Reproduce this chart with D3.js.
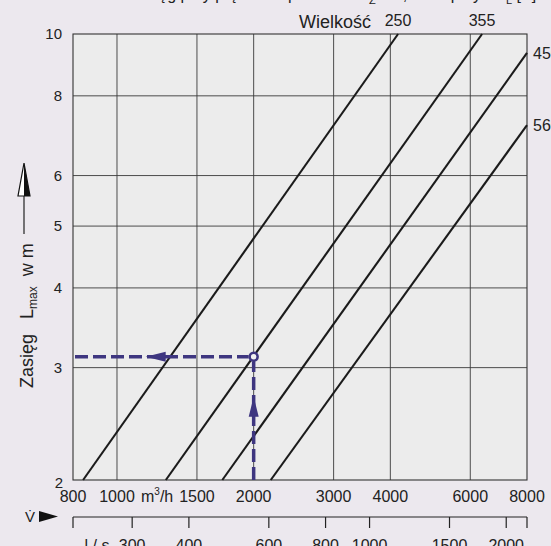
<!DOCTYPE html>
<html>
<head>
<meta charset="utf-8">
<script src="https://cdn.jsdelivr.net/npm/d3@7"></script>
<style>
  html, body { margin: 0; padding: 0; background: #ece8ee; overflow: hidden; }
  svg { display: block; font-family: "Liberation Sans", Arial, sans-serif; }
</style>
</head>
<body>
<div id="chart"></div>
<script>
// Values
const flowTicks = [800, 1000, 1500, 2000, 3000, 4000, 6000, 8000];     // m3/h
const flowGrid = [1000, 1500, 2000, 3000, 4000, 6000];
const rangeTicks = [2, 3, 4, 5, 6, 8, 10];                               // m
const rangeGrid = [3, 4, 5, 6, 8];
const litreTicks = [300, 400, 600, 800, 1000, 1500, 2000];               // l/s
const sizes = ['250', '355', '450', '560'];
const lineStartFlow = [842, 1281, 1706, 2181];                           // flow where L = 2 m
const lineEndFlow = [4160, 6370, 8000, 8000];
const lineEndRange = [10, 10, 9.34, 7.2];
const exampleFlow = 2000;
const exampleRange = 3.12;

class RangeChart {
    constructor(containerId) {
        this.containerId = containerId;
        this.width = 551;
        this.height = 546;
        this.margin = { left: 73, right: 527, top: 34, bottom: 480 };
    }

    draw() {
        const m = this.margin;
        const svg = d3.select(`#${this.containerId}`)
            .append('svg')
            .attr('width', this.width)
            .attr('height', this.height);

        const x = d3.scaleLog().domain([800, 8000]).range([m.left, m.right]);
        const y = d3.scaleLog().domain([2, 10]).range([m.bottom, m.top]);
        // l/s axis shares the same position as m3/h (1 l/s = 3.6 m3/h)
        const xl = d3.scaleLog().domain([800 / 3.6, 8000 / 3.6]).range([m.left, m.right]);

        // heading, mostly cut off by the top edge as in the original
        const head = svg.append('text')
            .attr('x', 128).attr('y', 0)
            .attr('font-size', 16).attr('fill', '#222');
        head.append('tspan').text('Zasięg przy prędkości powietrza v');
        head.append('tspan').attr('font-size', 11).attr('dy', 4).text('Z');
        head.append('tspan').attr('dy', -4).text(' = 0,2 m/s przy ΔT');
        head.append('tspan').attr('font-size', 11).attr('dy', 4).text('L');
        head.append('tspan').attr('dy', -4).text(' [K] = 0 (izoterm.)');

        // plot background
        svg.append('rect')
            .attr('x', m.left).attr('y', m.top)
            .attr('width', m.right - m.left).attr('height', m.bottom - m.top)
            .attr('fill', '#ececec');

        // grid
        const grid = svg.append('g').attr('stroke', '#3a3a3a').attr('stroke-width', 0.9);
        grid.selectAll('.vg').data(flowGrid).enter().append('line')
            .attr('x1', d => x(d)).attr('x2', d => x(d))
            .attr('y1', m.top).attr('y2', m.bottom);
        grid.selectAll('.hg').data(rangeGrid).enter().append('line')
            .attr('x1', m.left).attr('x2', m.right)
            .attr('y1', d => y(d)).attr('y2', d => y(d));

        svg.append('rect')
            .attr('x', m.left).attr('y', m.top)
            .attr('width', m.right - m.left).attr('height', m.bottom - m.top)
            .attr('fill', 'none').attr('stroke', '#333').attr('stroke-width', 1.1);

        // size lines
        const lines = sizes.map((s, i) => ({
            size: s,
            p0: [lineStartFlow[i], 2],
            p1: [lineEndFlow[i], lineEndRange[i]]
        }));
        svg.append('g').selectAll('line').data(lines).enter().append('line')
            .attr('x1', d => x(d.p0[0])).attr('y1', d => y(d.p0[1]))
            .attr('x2', d => x(d.p1[0])).attr('y2', d => y(d.p1[1]))
            .attr('stroke', '#1b1b1b').attr('stroke-width', 2.1);

        // size labels: above the top edge or right of the right edge
        svg.append('g').selectAll('text').data(lines).enter().append('text')
            .attr('x', d => d.p1[1] >= 10 ? x(d.p1[0]) : m.right + 6)
            .attr('y', d => d.p1[1] >= 10 ? 26 : y(d.p1[1]) + 6)
            .attr('text-anchor', d => d.p1[1] >= 10 ? 'middle' : 'start')
            .attr('font-size', 16).attr('fill', '#222')
            .text(d => d.size);

        svg.append('text')
            .attr('x', 335).attr('y', 28)
            .attr('text-anchor', 'middle')
            .attr('font-size', 18).attr('fill', '#222')
            .text('Wielkość');

        // y tick labels
        svg.append('g').selectAll('text').data(rangeTicks).enter().append('text')
            .attr('x', d => d === 2 ? 63 : 62)
            .attr('y', d => d === 2 ? y(d) + 8 : y(d) + 5)
            .attr('text-anchor', 'end')
            .attr('font-size', 15).attr('fill', '#222')
            .text(d => d);

        // x tick labels (m3/h)
        svg.append('g').selectAll('text').data(flowTicks).enter().append('text')
            .attr('x', d => x(d)).attr('y', m.bottom + 22)
            .attr('text-anchor', 'middle')
            .attr('font-size', 16).attr('fill', '#222')
            .text(d => d);
        const unit = svg.append('text')
            .attr('x', 141).attr('y', m.bottom + 22)
            .attr('font-size', 16).attr('fill', '#222');
        unit.append('tspan').text('m');
        unit.append('tspan').attr('font-size', 10).attr('dy', -7).text('3');
        unit.append('tspan').attr('dy', 7).text('/h');

        // flow symbol with arrow
        svg.append('text')
            .attr('x', 30).attr('y', 522)
            .attr('text-anchor', 'middle')
            .attr('font-size', 15).attr('fill', '#222')
            .text('V\u0307');
        svg.append('path')
            .attr('d', 'M39,511 L58,516.5 L39,522 Z')
            .attr('fill', '#111');

        // l/s axis
        const lsY = 517;
        const ls = svg.append('g').attr('stroke', '#222').attr('stroke-width', 1.2);
        ls.append('line')
            .attr('x1', m.left).attr('x2', m.right)
            .attr('y1', lsY).attr('y2', lsY);
        ls.selectAll('.t').data([800 / 3.6, ...litreTicks, 8000 / 3.6]).enter().append('line')
            .attr('x1', d => xl(d)).attr('x2', d => xl(d))
            .attr('y1', lsY).attr('y2', lsY + 11);
        svg.append('g').selectAll('text').data(litreTicks).enter().append('text')
            .attr('x', d => xl(d)).attr('y', 551)
            .attr('text-anchor', 'middle')
            .attr('font-size', 16).attr('fill', '#222')
            .text(d => d);
        svg.append('text')
            .attr('x', 97).attr('y', 551)
            .attr('text-anchor', 'middle')
            .attr('font-size', 16).attr('fill', '#222')
            .text('l / s');

        // y axis title with arrow
        const yt = svg.append('text')
            .attr('transform', 'translate(33,388) rotate(-90)')
            .style('white-space', 'pre')
            .attr('font-size', 18).attr('fill', '#222');
        yt.append('tspan').text('Zasięg   L');
        yt.append('tspan').attr('font-size', 12).attr('dy', 4).text('max');
        yt.append('tspan').attr('dy', -4).text('  w m');
        svg.append('line')
            .attr('x1', 24).attr('x2', 24).attr('y1', 195).attr('y2', 234)
            .attr('stroke', '#222').attr('stroke-width', 1.2);
        svg.append('path')
            .attr('d', 'M24,163 L30,196 L18,196 Z')
            .attr('fill', '#fff').attr('stroke', '#111').attr('stroke-width', 1.2);
        svg.append('path')
            .attr('d', 'M24,163 L30,196 L24,196 Z')
            .attr('fill', '#111');

        // worked example
        const px = x(exampleFlow), py = y(exampleRange);
        const ex = svg.append('g')
            .attr('stroke', '#3e3680').attr('stroke-width', 3.5)
            .attr('stroke-dasharray', '13,5').attr('fill', 'none');
        ex.append('line').attr('x1', m.left + 2).attr('x2', px - 5).attr('y1', py).attr('y2', py);
        ex.append('line').attr('x1', px).attr('x2', px).attr('y1', m.bottom).attr('y2', py + 5);
        svg.append('path')
            .attr('d', `M${px},${py + 40} L${px + 5},${py + 60} L${px - 5},${py + 60} Z`)
            .attr('fill', '#3e3680');
        svg.append('path')
            .attr('d', `M${px - 108},${py} L${px - 88},${py - 5} L${px - 88},${py + 5} Z`)
            .attr('fill', '#3e3680');
        svg.append('circle')
            .attr('cx', px).attr('cy', py).attr('r', 4)
            .attr('fill', '#f2f2f2').attr('stroke', '#3e3680').attr('stroke-width', 2.5);
    }
}

new RangeChart('chart').draw();
</script>
</body>
</html>
